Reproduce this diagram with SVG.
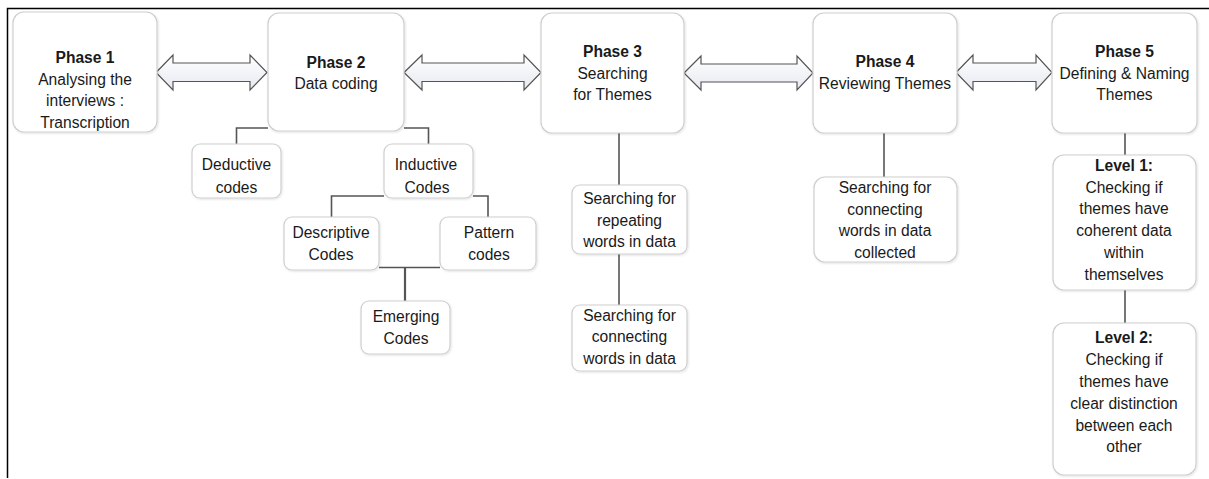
<svg xmlns="http://www.w3.org/2000/svg" width="1209" height="479" viewBox="0 0 1209 479">
<style>
.box{fill:#ffffff;stroke:#cfcfcf;stroke-width:1.2;filter:url(#sh)}
text{font-family:"Liberation Sans",Arial,sans-serif;font-size:15.6px;fill:#1a1a1a;text-anchor:middle}
.b{font-weight:bold}
.con{fill:none;stroke:#555555;stroke-width:1.6}
.arr{fill:url(#ag);stroke:#555555;stroke-width:1.2;stroke-linejoin:miter}
.frame{stroke:#000000;stroke-width:1.5;fill:none}
</style>
<defs>
<linearGradient id="ag" x1="0" y1="0" x2="0" y2="1">
<stop offset="0" stop-color="#ffffff"/>
<stop offset="1" stop-color="#e6e9f0"/>
</linearGradient>
<filter id="sh" x="-10%" y="-10%" width="120%" height="120%">
<feDropShadow dx="0.8" dy="1" stdDeviation="0.9" flood-color="#000" flood-opacity="0.12"/>
</filter>
</defs>
<rect width="1209" height="479" fill="#ffffff"/>
<path class="frame" d="M7.5,478 V8.5 H1209"/>

<g id="connectors">
<path class="arr" d="M156,72.5 L173,55 L173,63 L250,63 L250,55 L267,72.5 L250,90 L250,81.5 L173,81.5 L173,90 Z"/>
<path class="arr" d="M404,72.5 L422,55 L422,63 L524,63 L524,55 L541,72.5 L524,90 L524,81.5 L422,81.5 L422,90 Z"/>
<path class="arr" d="M684,73 L701,56 L701,64 L797,64 L797,56 L813,73 L797,90 L797,82 L701,82 L701,90 Z"/>
<path class="arr" d="M956,72.5 L973,55 L973,63 L1036,63 L1036,55 L1052,72.5 L1036,90 L1036,81.5 L973,81.5 L973,90 Z"/>
<path class="con" d="M268,128 H236.5 V144"/>
<path class="con" d="M404,128 H428.5 V144"/>
<path class="con" d="M384,196 H331.5 V217"/>
<path class="con" d="M473,196 H488 V217"/>
<path class="con" d="M379,267.5 H440"/>
<path class="con" d="M405,267.5 V301" style="stroke-width:2.2"/>
<path class="con" d="M619,133 V185"/>
<path class="con" d="M619,254 V305"/>
<path class="con" d="M884,133 V177"/>
<path class="con" d="M1125,133 V155"/>
<path class="con" d="M1125,290 V323"/>
</g>

<g id="phase1"><rect class="box" x="13" y="12" width="144" height="120" rx="11"/>
<text x="85" y="63" class="b">Phase 1</text><text x="85" y="84.5">Analysing the</text><text x="85" y="106">interviews :</text><text x="85" y="127.5">Transcription</text></g>
<g id="phase2"><rect class="box" x="268" y="13" width="136" height="118" rx="11"/>
<text x="336" y="68" class="b">Phase 2</text><text x="336" y="89">Data coding</text></g>
<g id="phase3"><rect class="box" x="541" y="13" width="143" height="120" rx="11"/>
<text x="612.5" y="57" class="b">Phase 3</text><text x="612.5" y="78.5">Searching</text><text x="612.5" y="100">for Themes</text></g>
<g id="phase4"><rect class="box" x="813" y="13" width="144" height="120" rx="11"/>
<text x="885" y="67" class="b">Phase 4</text><text x="885" y="89">Reviewing Themes</text></g>
<g id="phase5"><rect class="box" x="1052" y="13" width="145" height="120" rx="11"/>
<text x="1124.5" y="57" class="b">Phase 5</text><text x="1124.5" y="78.5">Defining &amp; Naming</text><text x="1124.5" y="100">Themes</text></g>

<g id="deductive"><rect class="box" x="192" y="144" width="89" height="54" rx="8"/>
<text x="236.5" y="170">Deductive</text><text x="236.5" y="192.5">codes</text></g>
<g id="inductive"><rect class="box" x="384" y="144" width="89" height="54" rx="8"/>
<text x="426" y="170">Inductive</text><text x="427" y="192.5">Codes</text></g>
<g id="descriptive"><rect class="box" x="284" y="217" width="95" height="53" rx="8"/>
<text x="331" y="238">Descriptive</text><text x="331" y="259.5">Codes</text></g>
<g id="pattern"><rect class="box" x="440" y="217" width="96" height="53" rx="8"/>
<text x="489" y="238">Pattern</text><text x="489" y="259.5">codes</text></g>
<g id="emerging"><rect class="box" x="361" y="301" width="89" height="53" rx="8"/>
<text x="406" y="322">Emerging</text><text x="406" y="344">Codes</text></g>

<g id="repeating"><rect class="box" x="572" y="185" width="115" height="69" rx="8"/>
<text x="629.5" y="204">Searching for</text><text x="629.5" y="225.5">repeating</text><text x="629.5" y="247">words in data</text></g>
<g id="connecting3"><rect class="box" x="572" y="305" width="115" height="66" rx="8"/>
<text x="629.5" y="320.5">Searching for</text><text x="629.5" y="342">connecting</text><text x="629.5" y="363.5">words in data</text></g>
<g id="connecting4"><rect class="box" x="814" y="177" width="143" height="85" rx="11"/>
<text x="885" y="192.5">Searching for</text><text x="885" y="214.5">connecting</text><text x="885" y="236">words in data</text><text x="885" y="258">collected</text></g>

<g id="level1"><rect class="box" x="1053" y="155" width="143" height="135" rx="11"/>
<text x="1124" y="171" class="b">Level 1:</text><text x="1124" y="192.5">Checking if</text><text x="1124" y="214">themes have</text><text x="1124" y="236">coherent data</text><text x="1124" y="258">within</text><text x="1124" y="280">themselves</text></g>
<g id="level2"><rect class="box" x="1053" y="323" width="143" height="152" rx="11"/>
<text x="1124" y="343" class="b">Level 2:</text><text x="1124" y="365">Checking if</text><text x="1124" y="387">themes have</text><text x="1124" y="409">clear distinction</text><text x="1124" y="431">between each</text><text x="1124" y="452">other</text></g>
</svg>
